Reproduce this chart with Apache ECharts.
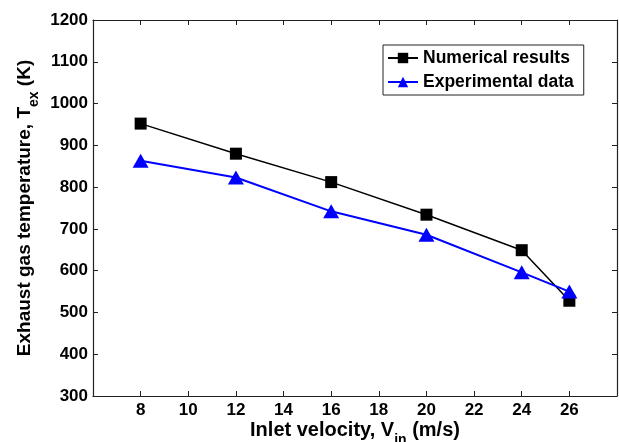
<!DOCTYPE html>
<html><head><meta charset="utf-8">
<script src="https://cdn.jsdelivr.net/npm/echarts@6/dist/echarts.min.js"></script>
<style>html,body{margin:0;padding:0;background:#fff;overflow:hidden}#c{width:619px;height:442px}</style>
</head><body><div id="c"></div>
<script>
const velocities = [8, 12, 16, 20, 24, 26];
const numerical = [952, 880, 812, 734, 649, 528];
const experimental = [863, 823, 742, 686, 596, 550];
const xTicks = [8, 10, 12, 14, 16, 18, 20, 22, 24, 26];

const FONT = 'Liberation Sans, Arial, sans-serif';
const chart = echarts.init(document.getElementById('c'), null, {width: 619, height: 442});
const tickStyle = {show: true, inside: true, length: 5, lineStyle: {color: '#222', width: 1}};
const axLine = {show: true, lineStyle: {color: '#222', width: 1.2}};
chart.setOption({
  animation: false,
  backgroundColor: '#fff',
  grid: {left: 93, top: 20, right: 2, bottom: 46, containLabel: false, outerBoundsMode: 'none'},
  legend: {
    left: 383, top: 45, orient: 'vertical',
    borderColor: '#222', borderWidth: 1, backgroundColor: '#fff',
    padding: [4, 10, 4, 4], itemGap: 6, itemWidth: 30, itemHeight: 13,
    textStyle: {fontFamily: FONT, fontWeight: 'bold', fontSize: 17.5, color: '#000'},
    data: ['Numerical results', 'Experimental data']
  },
  xAxis: [{
    type: 'value', min: 6, max: 28, interval: 2,
    axisLine: axLine, axisTick: tickStyle, splitLine: {show: false},
    axisLabel: {fontFamily: FONT, fontWeight: 'bold', fontSize: 17, color: '#000', margin: 6,
      formatter: v => xTicks.includes(v) ? String(v) : ''},
    name: '{a|Inlet velocity, V}{s|in}{a| (m/s)}', nameLocation: 'middle', nameGap: 24, nameMoveOverlap: false,
    nameTextStyle: {rich: {
      a: {fontFamily: FONT, fontWeight: 'bold', fontSize: 20, color: '#000', verticalAlign: 'bottom'},
      s: {fontFamily: FONT, fontWeight: 'bold', fontSize: 14, color: '#000', verticalAlign: 'bottom', padding: [0, 0, -7, 0]}
    }}
  }, {
    type: 'value', min: 6, max: 28, interval: 2, position: 'top',
    axisLine: axLine, axisTick: tickStyle, axisLabel: {show: false}, splitLine: {show: false}
  }],
  yAxis: [{
    type: 'value', min: 300, max: 1200, interval: 100,
    axisLine: axLine, axisTick: tickStyle, splitLine: {show: false},
    axisLabel: {fontFamily: FONT, fontWeight: 'bold', fontSize: 17, color: '#000', margin: 5,
      formatter: v => String(v)},
    name: '{a|Exhaust gas temperature, T}{s|ex}{a| (K)}', nameLocation: 'middle', nameGap: 59, nameRotate: 90, nameMoveOverlap: false,
    nameTextStyle: {rich: {
      a: {fontFamily: FONT, fontWeight: 'bold', fontSize: 19, color: '#000', verticalAlign: 'bottom'},
      s: {fontFamily: FONT, fontWeight: 'bold', fontSize: 14, color: '#000', verticalAlign: 'bottom', padding: [0, 0, -7, 0]}
    }}
  }, {
    type: 'value', min: 300, max: 1200, interval: 100, position: 'right',
    axisLine: axLine, axisTick: tickStyle, axisLabel: {show: false}, splitLine: {show: false}
  }],
  series: [{
    name: 'Numerical results', type: 'line',
    data: velocities.map((v, i) => [v, numerical[i]]),
    symbol: 'rect', symbolSize: 12,
    lineStyle: {color: '#000', width: 1.5}, itemStyle: {color: '#000'}
  }, {
    name: 'Experimental data', type: 'line',
    data: velocities.map((v, i) => [v, experimental[i]]),
    symbol: 'triangle', symbolSize: [16, 14],
    lineStyle: {color: '#0000ff', width: 2}, itemStyle: {color: '#0000ff'}
  }]
});
</script></body></html>
